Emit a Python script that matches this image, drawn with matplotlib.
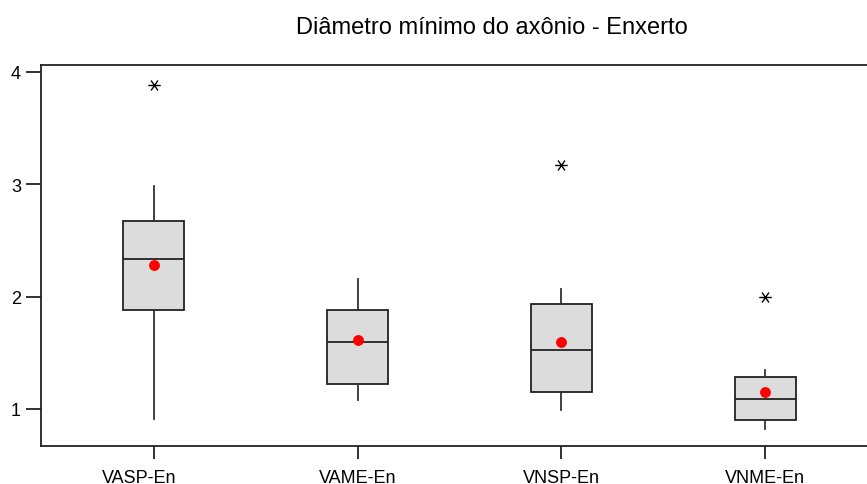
import matplotlib
matplotlib.use("Agg")
import matplotlib.pyplot as plt
from matplotlib.path import Path
from matplotlib.transforms import ScaledTranslation

plt.rcParams['font.family'] = ['Liberation Sans', 'DejaVu Sans']

# values
groups = ["VASP-En", "VAME-En", "VNSP-En", "VNME-En"]
whisk_low = [0.91, 1.08, 0.99, 0.82]
q1 = [1.88, 1.22, 1.15, 0.90]
median = [2.33, 1.60, 1.52, 1.09]
q3 = [2.67, 1.88, 1.93, 1.28]
whisk_high = [2.98, 2.16, 2.07, 1.35]
means = [2.28, 1.61, 1.60, 1.15]
outliers = [[3.88], [], [3.17], [2.00]]

title = "Diâmetro mínimo do axônio - Enxerto"

fig = plt.figure(figsize=(8.67, 4.85), dpi=100)
ax = fig.add_axes([0.0473, 0.079, 0.9527, 0.7855])

stats = []
for i, name in enumerate(groups):
    stats.append({
        "label": name,
        "whislo": whisk_low[i],
        "q1": q1[i],
        "med": median[i],
        "q3": q3[i],
        "whishi": whisk_high[i],
        "fliers": outliers[i],
    })

pos = list(range(1, len(groups) + 1))
ax.bxp(stats, positions=pos, widths=0.30, patch_artist=True,
       showcaps=False, showfliers=False,
       boxprops=dict(facecolor="#dcdcdc", edgecolor="#222222", linewidth=1.3),
       medianprops=dict(color="#222222", linewidth=1.3),
       whiskerprops=dict(color="#333333", linewidth=1.3))

# minitab style asterisk: a horizontal bar and two steep diagonals
star = Path([(-1, 0), (1, 0), (-0.55, -0.8), (0.55, 0.8), (-0.55, 0.8), (0.55, -0.8)],
            [Path.MOVETO, Path.LINETO, Path.MOVETO, Path.LINETO, Path.MOVETO, Path.LINETO])

for p, vals in zip(pos, outliers):
    if vals:
        ax.plot([p] * len(vals), vals, linestyle="none", marker=star,
                markersize=9, markeredgewidth=1.0, markerfacecolor="none",
                markeredgecolor="black")

ax.plot(pos, means, linestyle="none", marker="o", markersize=6.8,
        color="red", zorder=5)

ax.set_xlim(0.446, 4.5)
ax.set_ylim(0.673, 4.063)
ax.set_yticks([1, 2, 3, 4])
ax.set_xticks(pos)
ax.set_xticklabels(groups)

ax.spines["right"].set_visible(False)
for s in ["left", "top", "bottom"]:
    ax.spines[s].set_linewidth(1.3)
    ax.spines[s].set_color("#222222")

ax.tick_params(axis="y", length=11, width=1.3, color="#222222",
               pad=3.5, labelsize=13)
ax.tick_params(axis="x", length=9, width=1.3, color="#222222",
               pad=7.5, labelsize=13)

# the first category label sits a bit left of its tick in the original
first = ax.get_xticklabels()[0]
first.set_transform(first.get_transform() +
                    ScaledTranslation(-0.15, 0, fig.dpi_scale_trans))

fig.text(491.5 / 867, 1 - 28 / 485, title, ha="center", va="center",
         fontsize=17)

fig.savefig("out.png", dpi=100)
